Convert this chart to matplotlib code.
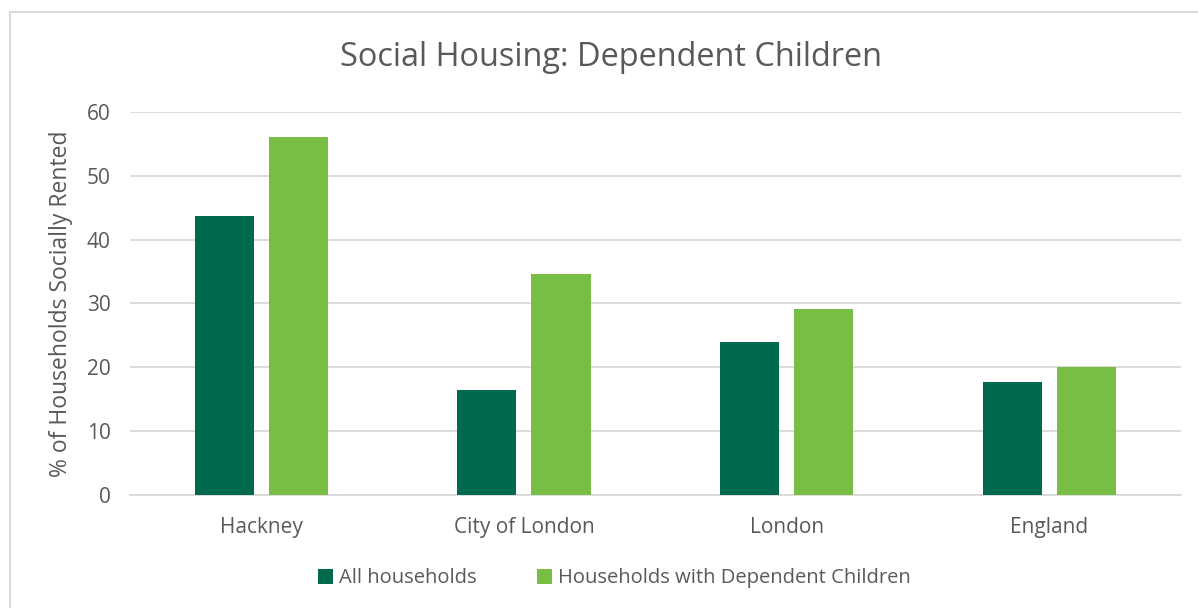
import matplotlib.pyplot as plt
import numpy as np
from matplotlib.patches import Rectangle

plt.rcParams['font.family'] = ['Open Sans', 'DejaVu Sans']

# Share of households in social rent, by area
areas = ['Hackney', 'City of London', 'London', 'England']
all_households = [43.7, 16.5, 24.0, 17.7]
with_children = [56.1, 34.6, 29.1, 20.1]

dark_green = '#00694E'
light_green = '#78BE45'
text_grey = '#595959'

fig = plt.figure(figsize=(11.98, 6.08), dpi=100)
ax = fig.add_axes([0.1085, 0.186, 0.877, 0.63])

# chart frame
fig.patches.append(Rectangle((10 / 1198, -0.01), 1.2, 1 - 12 / 608 + 0.01,
                             transform=fig.transFigure, fill=False,
                             edgecolor='#d9d9d9', linewidth=1.5))

x = np.arange(len(areas))
w = 0.225
gap = 0.0285
ax.bar(x - w / 2 - gap, all_households, w, color=dark_green, label='All households', zorder=3)
ax.bar(x + w / 2 + gap, with_children, w, color=light_green,
       label='Households with Dependent Children', zorder=3)

ax.set_xlim(-0.5, len(areas) - 0.5)
ax.set_ylim(0, 60)
ax.set_yticks(range(0, 61, 10))
ax.set_xticks(x)
ax.set_xticklabels(areas)
ax.grid(axis='y', color='#d9d9d9', linewidth=1.3, zorder=0)
for s in ['top', 'right', 'left']:
    ax.spines[s].set_visible(False)
ax.spines['bottom'].set_color('#d9d9d9')
ax.spines['bottom'].set_linewidth(1.3)
ax.tick_params(axis='both', length=0, labelsize=15, colors=text_grey)
ax.tick_params(axis='x', pad=16)
ax.tick_params(axis='y', pad=14)

ax.set_ylabel('% of Households Socially Rented', fontsize=16.5, color=text_grey, labelpad=10)
fig.text(0.51, 0.905, 'Social Housing: Dependent Children', fontsize=23.4,
         color=text_grey, ha='center', va='center')

fig.legend(loc='center', bbox_to_anchor=(0.513, 0.049), ncol=2, frameon=False,
           fontsize=14.5, labelcolor=text_grey, handlelength=0.75, handleheight=0.75,
           handletextpad=0.3, columnspacing=3.0)

fig.savefig('out.png', dpi=100)
